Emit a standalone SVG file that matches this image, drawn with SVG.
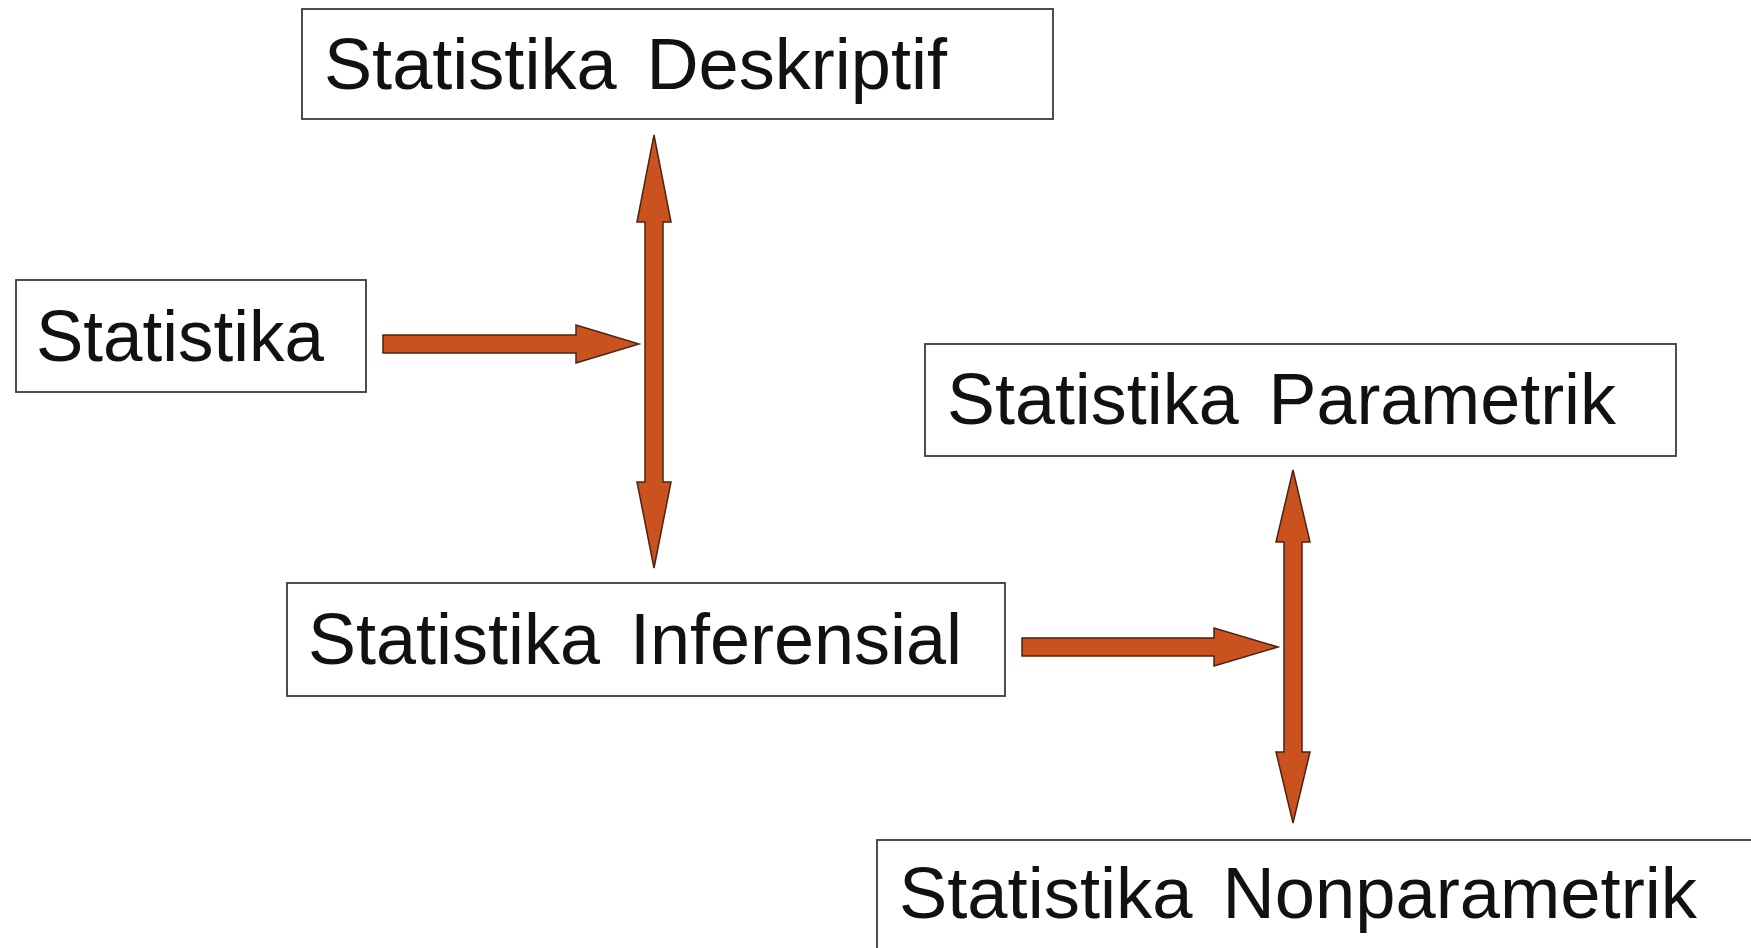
<svg xmlns="http://www.w3.org/2000/svg" width="1751" height="948" viewBox="0 0 1751 948">
<style>
.box{fill:#ffffff;stroke:#3a3a3a;stroke-width:1.8}
.lbl{font-family:"Liberation Sans",Arial,sans-serif;font-size:73px;fill:#111111;word-spacing:10px}
.arr{fill:#C9521F;stroke:#4a2410;stroke-width:1.5;stroke-linejoin:miter}
</style>
<rect width="1751" height="948" fill="#ffffff"/>
<g id="connectors">
<polygon class="arr" points="383,335 576,335 576,325 639,344 576,363 576,353 383,353"/>
<polygon class="arr" points="654,135 671,222 663,222 663,482 671,482 654,568 637,482 645,482 645,222 637,222"/>
<polygon class="arr" points="1022,638 1214,638 1214,628 1278,647 1214,666 1214,656 1022,656"/>
<polygon class="arr" points="1293,470 1310,542 1302,542 1302,752 1310,752 1293,823 1276,752 1284,752 1284,542 1276,542"/>
</g>
<g id="node-statistika">
<rect class="box" x="16" y="280" width="350" height="112"/>
<text class="lbl" x="36" y="361" textLength="288" lengthAdjust="spacingAndGlyphs">Statistika</text>
</g>
<g id="node-deskriptif">
<rect class="box" x="302" y="9" width="751" height="110"/>
<text class="lbl" x="324" y="89" textLength="623" lengthAdjust="spacingAndGlyphs">Statistika Deskriptif</text>
</g>
<g id="node-inferensial">
<rect class="box" x="287" y="583" width="718" height="113"/>
<text class="lbl" x="308" y="664" textLength="654" lengthAdjust="spacingAndGlyphs">Statistika Inferensial</text>
</g>
<g id="node-parametrik">
<rect class="box" x="925" y="344" width="751" height="112"/>
<text class="lbl" x="947" y="424" textLength="669" lengthAdjust="spacingAndGlyphs">Statistika Parametrik</text>
</g>
<g id="node-nonparametrik">
<rect class="box" x="877" y="840" width="900" height="150"/>
<text class="lbl" x="899" y="918" textLength="798" lengthAdjust="spacingAndGlyphs">Statistika Nonparametrik</text>
</g>
</svg>
